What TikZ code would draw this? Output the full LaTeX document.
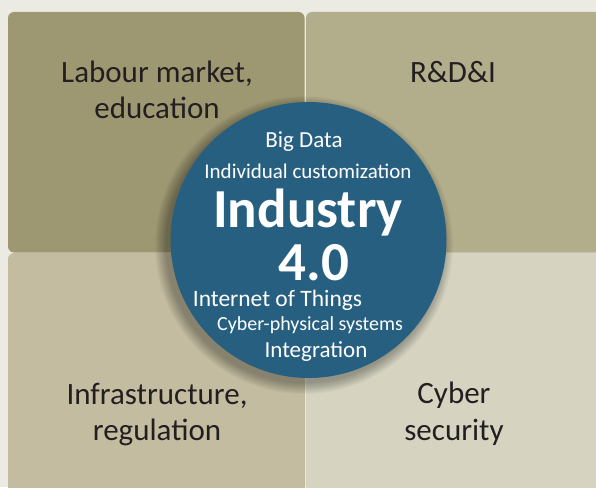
\documentclass[tikz,border=0pt]{standalone}
\usepackage{fontspec}
\setmainfont{Carlito}
\definecolor{bgc}{HTML}{ECEBE3}
\definecolor{tlc}{HTML}{9E9872}
\definecolor{trc}{HTML}{B2AD8A}
\definecolor{blc}{HTML}{C4BCA0}
\definecolor{brc}{HTML}{D6D4C1}
\definecolor{circc}{HTML}{275F81}
\definecolor{txtc}{HTML}{231F20}
\begin{document}
\begin{tikzpicture}[x=1pt,y=-1pt,
  quad/.style={rounded corners=6pt},
  lbl/.style={font=\fontsize{31}{36}\selectfont, text=txtc, anchor=base, inner sep=0pt},
  ctext/.style={text=white, anchor=base, inner sep=0pt}]
\fill[bgc] (0,0) rectangle (596,487);
\useasboundingbox (0,0) rectangle (596,487);
\fill[tlc, quad] (8,12) rectangle (304.5,252.5);
\fill[trc, quad] (306,12) rectangle (620,252.5);
\fill[blc, quad] (8,253) rectangle (305,520);
\fill[brc, quad] (306,253) rectangle (620,520);
% quadrant labels
\node[lbl] (lm1) at (157,82) {Labour market,};
\node[lbl] (lm2) at (157,118) {education};
\node[lbl] (rd) at (453,82) {R\&D\&I};
\node[lbl] (in1) at (157,404) {Infrastructure,};
\node[lbl] (in2) at (157,440) {regulation};
\node[lbl] (cy1) at (454,403) {Cyber};
\node[lbl] (cy2) at (454,440) {security};
% soft shadow, mostly towards lower left
\foreach \i in {1,...,12}{
  \fill[black, opacity=0.028] (304,245) circle ({138+12-\i});
}
% circle
\node[circle, fill=circc, minimum size=276pt, inner sep=0pt] (c) at (308.5,240) {};
\node[ctext, font=\fontsize{23}{26}\selectfont] (bd) at (304,147) {Big Data};
\node[ctext, font=\fontsize{21}{24}\selectfont] (ic) at (308,178) {Individual customization};
\node[ctext, font=\bfseries\fontsize{55}{60}\selectfont] (ind) at (308,227) {Industry};
\node[ctext, font=\bfseries\fontsize{55}{60}\selectfont, text depth=0pt] (v40) at (314,280) {4.0};
\node[ctext, font=\fontsize{23.5}{26}\selectfont] (iot) at (277.5,306) {Internet of Things};
\node[ctext, font=\fontsize{20}{24}\selectfont] (cps) at (310,330.5) {Cyber-physical systems};
\node[ctext, font=\fontsize{23}{26}\selectfont] (integ) at (316,357) {Integration};
\end{tikzpicture}
\end{document}
